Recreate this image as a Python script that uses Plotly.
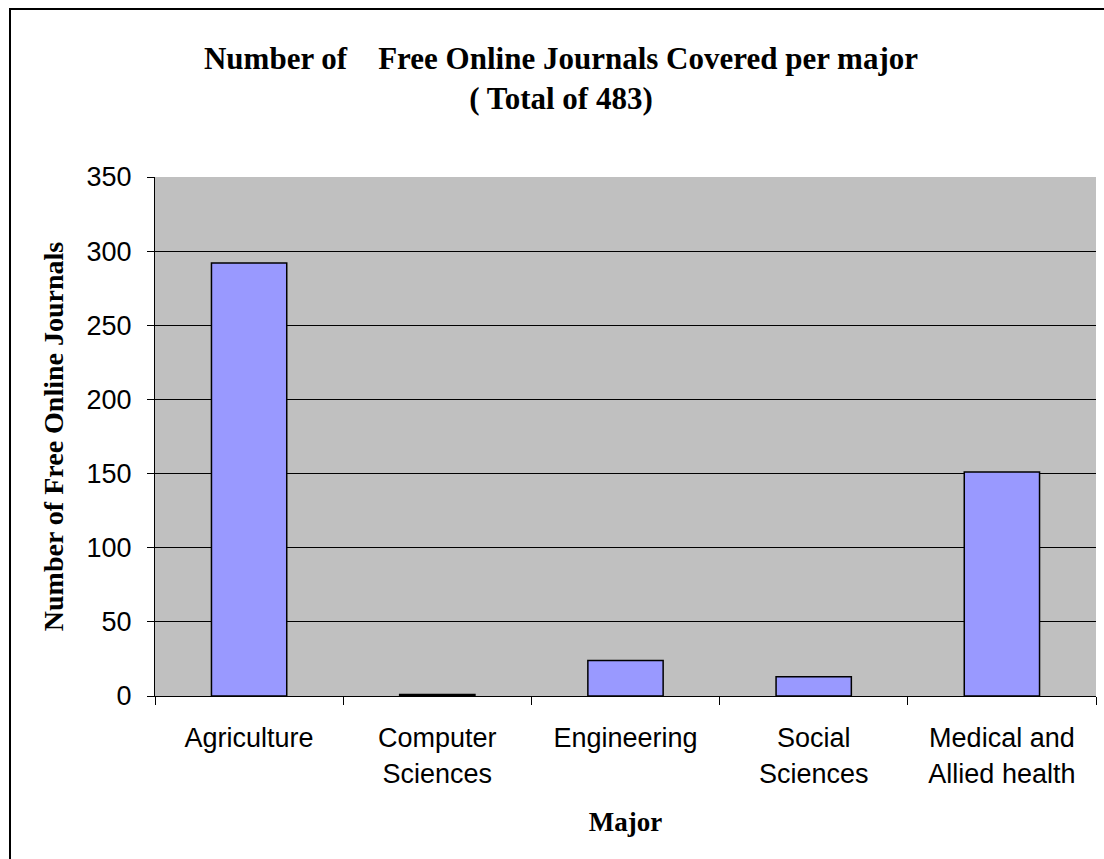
import plotly.graph_objects as go

categories = ["Agriculture", "Computer<br>Sciences", "Engineering", "Social<br>Sciences", "Medical and<br>Allied health"]
values = [292, 1, 24, 13, 151]
y_ticks = [0, 50, 100, 150, 200, 250, 300, 350]

W, H = 1104, 859
L, R, T, B = 155, 8, 177, 163

fig = go.Figure(go.Bar(
    x=categories, y=values,
    marker=dict(color="#9999FF", line=dict(color="black", width=1.5)),
    width=0.4,
))

serif = "Liberation Serif, Times New Roman, serif"
sans = "Liberation Sans, Arial, sans-serif"

fig.update_layout(
    width=W, height=H,
    margin=dict(l=L, r=R, t=T, b=B, autoexpand=False),
    paper_bgcolor="white",
    plot_bgcolor="#C0C0C0",
    showlegend=False,
    title=dict(
        text="<b>Number of\u00a0\u00a0\u00a0 Free Online Journals Covered per major<br>( Total of 483)</b>",
        x=561 / W, xanchor="center",
        y=1 - 69 / H, yanchor="middle",
        font=dict(family=serif, size=31, color="black"),
    ),
    xaxis=dict(
        showline=True, linecolor="black", linewidth=1,
        ticks="outside", tickson="boundaries", ticklen=8, tickcolor="black",
        tickfont=dict(family=sans, size=27, color="black"),
        ticklabelstandoff=18,
        title=dict(text="<b>Major</b>", font=dict(family=serif, size=27, color="black"), standoff=24),
        showgrid=False,
    ),
    yaxis=dict(
        range=[0, 350], tickvals=y_ticks,
        showline=True, linecolor="black", linewidth=1,
        ticks="outside", ticklen=7, tickcolor="black",
        tickfont=dict(family=sans, size=27, color="black"),
        ticklabelstandoff=10,
        showgrid=True, gridcolor="black", gridwidth=1,
        zeroline=False,
        title=dict(text="<b>Number of Free Online Journals</b>", font=dict(family=serif, size=28, color="black"), standoff=14),
    ),
    shapes=[dict(
        type="rect", xref="paper", yref="paper",
        x0=(10 - L) / (W - L - R), x1=(W + 10 - L) / (W - L - R),
        y0=-(B + 10) / (H - T - B), y1=1 + (T - 9) / (H - T - B),
        line=dict(color="black", width=2), fillcolor="rgba(0,0,0,0)",
        layer="below",
    )],
)

fig.write_html("out.html", config={"displayModeBar": False},
               post_script="document.body.style.margin='0';")
